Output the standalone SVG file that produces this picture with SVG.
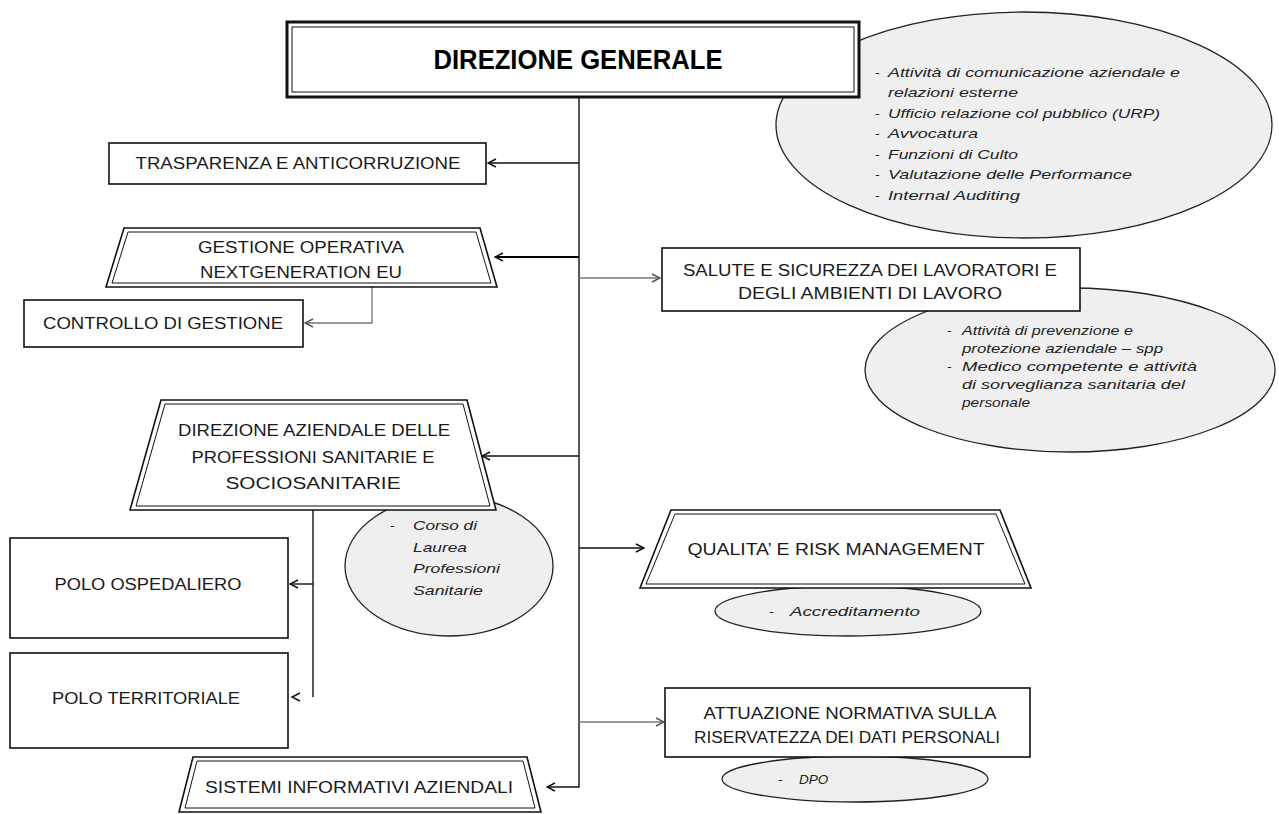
<svg xmlns="http://www.w3.org/2000/svg" width="1279" height="814" viewBox="0 0 1279 814">
<defs>
<style>
.bx{fill:#fff;stroke:#111;stroke-width:1.6}
.bxi{fill:none;stroke:#111;stroke-width:1}
.el{fill:#efefef;stroke:#222;stroke-width:1.3}
.t{font-family:"Liberation Sans",Arial,sans-serif;font-size:16px;fill:#1a1a1a;text-anchor:middle}
.tb{font-family:"Liberation Sans",Arial,sans-serif;font-size:27px;font-weight:bold;fill:#000;text-anchor:middle}
.it{font-family:"Liberation Sans",Arial,sans-serif;font-size:13.5px;font-style:italic;fill:#222}
.c{fill:none;stroke:#111;stroke-width:1.4}
.cg{fill:none;stroke:#777;stroke-width:1.3}
.ck{fill:none;stroke:#000;stroke-width:2.2}
</style>
<marker id="ah" viewBox="0 0 10 10" refX="9" refY="5" markerWidth="10" markerHeight="10" markerUnits="userSpaceOnUse" orient="auto">
<path d="M1,1 L9,5 L1,9" fill="none" stroke="#111" stroke-width="1.4"/>
</marker>
<marker id="ahg" viewBox="0 0 10 10" refX="9" refY="5" markerWidth="10" markerHeight="10" markerUnits="userSpaceOnUse" orient="auto">
<path d="M1,1 L9,5 L1,9" fill="none" stroke="#555" stroke-width="1.4"/>
</marker>
</defs>
<rect width="1279" height="814" fill="#fff"/>

<g id="connectors">
<path class="c" d="M579,97 V787 H547" marker-end="url(#ah)"/>
<path class="c" d="M579,163 H488" marker-end="url(#ah)"/>
<path class="ck" d="M579,257 H495" marker-end="url(#ah)"/>
<path class="cg" d="M579,278 H660" marker-end="url(#ahg)"/>
<path class="cg" d="M372,287 V323 H305" marker-end="url(#ahg)"/>
<path class="c" d="M579,456 H482" marker-end="url(#ah)"/>
<path class="c" d="M579,548 H644" marker-end="url(#ah)"/>
<path class="cg" d="M579,722 H664" marker-end="url(#ahg)"/>
<path class="c" d="M313,510 V697"/>
<path class="c" d="M313,584 H290" marker-end="url(#ah)"/>
<path class="c" d="M300,693 L292,697 L300,701"/>
</g>

<g id="note-direzione-generale">
<ellipse class="el" cx="1024" cy="125" rx="248" ry="113"/>
<text class="it" x="875" y="77">-</text><text class="it" x="888" y="77" textLength="292" lengthAdjust="spacingAndGlyphs">Attività di comunicazione aziendale e</text>
<text class="it" x="888" y="97" textLength="130" lengthAdjust="spacingAndGlyphs">relazioni esterne</text>
<text class="it" x="875" y="118">-</text><text class="it" x="888" y="118" textLength="272" lengthAdjust="spacingAndGlyphs">Ufficio relazione col pubblico (URP)</text>
<text class="it" x="875" y="138">-</text><text class="it" x="888" y="138" textLength="90" lengthAdjust="spacingAndGlyphs">Avvocatura</text>
<text class="it" x="875" y="159">-</text><text class="it" x="888" y="159" textLength="130" lengthAdjust="spacingAndGlyphs">Funzioni di Culto</text>
<text class="it" x="875" y="179">-</text><text class="it" x="888" y="179" textLength="244" lengthAdjust="spacingAndGlyphs">Valutazione delle Performance</text>
<text class="it" x="875" y="200">-</text><text class="it" x="888" y="200" textLength="132" lengthAdjust="spacingAndGlyphs">Internal Auditing</text>
</g>

<g id="direzione-generale">
<rect x="287" y="22" width="572" height="75" fill="#fff" stroke="#111" stroke-width="3"/>
<rect x="292" y="27" width="562" height="65" class="bxi"/>
<text class="tb" x="578" y="69" textLength="289" lengthAdjust="spacingAndGlyphs">DIREZIONE GENERALE</text>
</g>

<g id="trasparenza">
<rect class="bx" x="109" y="143" width="377" height="41"/>
<text class="t" x="298" y="169" textLength="325" lengthAdjust="spacingAndGlyphs">TRASPARENZA E ANTICORRUZIONE</text>
</g>

<g id="gestione-operativa">
<polygon class="bx" points="124,228 480,228 497,287 106,287" stroke-width="2.2"/>
<polygon class="bxi" points="128,232 476,232 491,283 112,283"/>
<text class="t" x="301" y="253" textLength="206" lengthAdjust="spacingAndGlyphs">GESTIONE OPERATIVA</text>
<text class="t" x="301" y="278" textLength="202" lengthAdjust="spacingAndGlyphs">NEXTGENERATION EU</text>
</g>

<g id="controllo-gestione">
<rect class="bx" x="24" y="300" width="279" height="47"/>
<text class="t" x="163" y="329" textLength="240" lengthAdjust="spacingAndGlyphs">CONTROLLO DI GESTIONE</text>
</g>

<g id="note-salute">
<ellipse class="el" cx="1070" cy="370" rx="205" ry="82"/>
<text class="it" x="947" y="335">-</text><text class="it" x="962" y="335" textLength="171" lengthAdjust="spacingAndGlyphs">Attività di prevenzione e</text>
<text class="it" x="962" y="353" textLength="201" lengthAdjust="spacingAndGlyphs">protezione aziendale – spp</text>
<text class="it" x="947" y="371">-</text><text class="it" x="962" y="371" textLength="235" lengthAdjust="spacingAndGlyphs">Medico competente e attività</text>
<text class="it" x="962" y="389" textLength="223" lengthAdjust="spacingAndGlyphs">di sorveglianza sanitaria del</text>
<text class="it" x="962" y="407" textLength="68" lengthAdjust="spacingAndGlyphs">personale</text>
</g>

<g id="salute-sicurezza">
<rect class="bx" x="662" y="248" width="418" height="63"/>
<text class="t" x="870" y="276" textLength="374" lengthAdjust="spacingAndGlyphs">SALUTE E SICUREZZA DEI LAVORATORI E</text>
<text class="t" x="870" y="299" textLength="264" lengthAdjust="spacingAndGlyphs">DEGLI AMBIENTI DI LAVORO</text>
</g>

<g id="note-corso">
<ellipse class="el" cx="449" cy="566" rx="104" ry="70"/>
<text class="it" x="390" y="530">-</text><text class="it" x="413" y="530" textLength="64" lengthAdjust="spacingAndGlyphs">Corso di</text>
<text class="it" x="413" y="552" textLength="54" lengthAdjust="spacingAndGlyphs">Laurea</text>
<text class="it" x="413" y="573" textLength="87" lengthAdjust="spacingAndGlyphs">Professioni</text>
<text class="it" x="413" y="595" textLength="70" lengthAdjust="spacingAndGlyphs">Sanitarie</text>
</g>

<g id="direzione-aziendale">
<polygon class="bx" points="161,400 467,400 496,510 130,510" stroke-width="2.2"/>
<polygon class="bxi" points="165,404 463,404 490,506 136,506"/>
<text class="t" x="314" y="436" textLength="272" lengthAdjust="spacingAndGlyphs">DIREZIONE AZIENDALE DELLE</text>
<text class="t" x="313" y="463" textLength="243" lengthAdjust="spacingAndGlyphs">PROFESSIONI SANITARIE E</text>
<text class="t" x="313" y="489" textLength="175" lengthAdjust="spacingAndGlyphs">SOCIOSANITARIE</text>
</g>

<g id="polo-ospedaliero">
<rect class="bx" x="10" y="538" width="278" height="100"/>
<text class="t" x="148" y="590" textLength="187" lengthAdjust="spacingAndGlyphs">POLO OSPEDALIERO</text>
</g>

<g id="polo-territoriale">
<rect class="bx" x="10" y="653" width="278" height="95"/>
<text class="t" x="146" y="704" textLength="188" lengthAdjust="spacingAndGlyphs">POLO TERRITORIALE</text>
</g>

<g id="note-qualita">
<ellipse class="el" cx="848" cy="611" rx="133" ry="25"/>
<text class="it" x="769" y="616">-</text><text class="it" x="790" y="616" textLength="130" lengthAdjust="spacingAndGlyphs">Accreditamento</text>
</g>

<g id="qualita">
<polygon class="bx" points="671,510 1000,510 1031,588 640,588" stroke-width="2.2"/>
<polygon class="bxi" points="675,514 996,514 1025,584 646,584"/>
<text class="t" x="836" y="555" textLength="297" lengthAdjust="spacingAndGlyphs">QUALITA’ E RISK MANAGEMENT</text>
</g>

<g id="note-dpo">
<ellipse class="el" cx="855" cy="779" rx="133" ry="23"/>
<text class="it" x="778" y="784">-</text><text class="it" x="799" y="784" font-size="14.5">DPO</text>
</g>

<g id="attuazione">
<rect class="bx" x="665" y="688" width="365" height="69"/>
<text class="t" x="850" y="719" textLength="293" lengthAdjust="spacingAndGlyphs">ATTUAZIONE NORMATIVA SULLA</text>
<text class="t" x="847" y="743" textLength="306" lengthAdjust="spacingAndGlyphs">RISERVATEZZA DEI DATI PERSONALI</text>
</g>

<g id="sistemi-informativi">
<polygon class="bx" points="193,757 527,757 541,812 179,812" stroke-width="2.2"/>
<polygon class="bxi" points="197,761 523,761 535,808 185,808"/>
<text class="t" x="359" y="793" textLength="308" lengthAdjust="spacingAndGlyphs">SISTEMI INFORMATIVI AZIENDALI</text>
</g>
</svg>
